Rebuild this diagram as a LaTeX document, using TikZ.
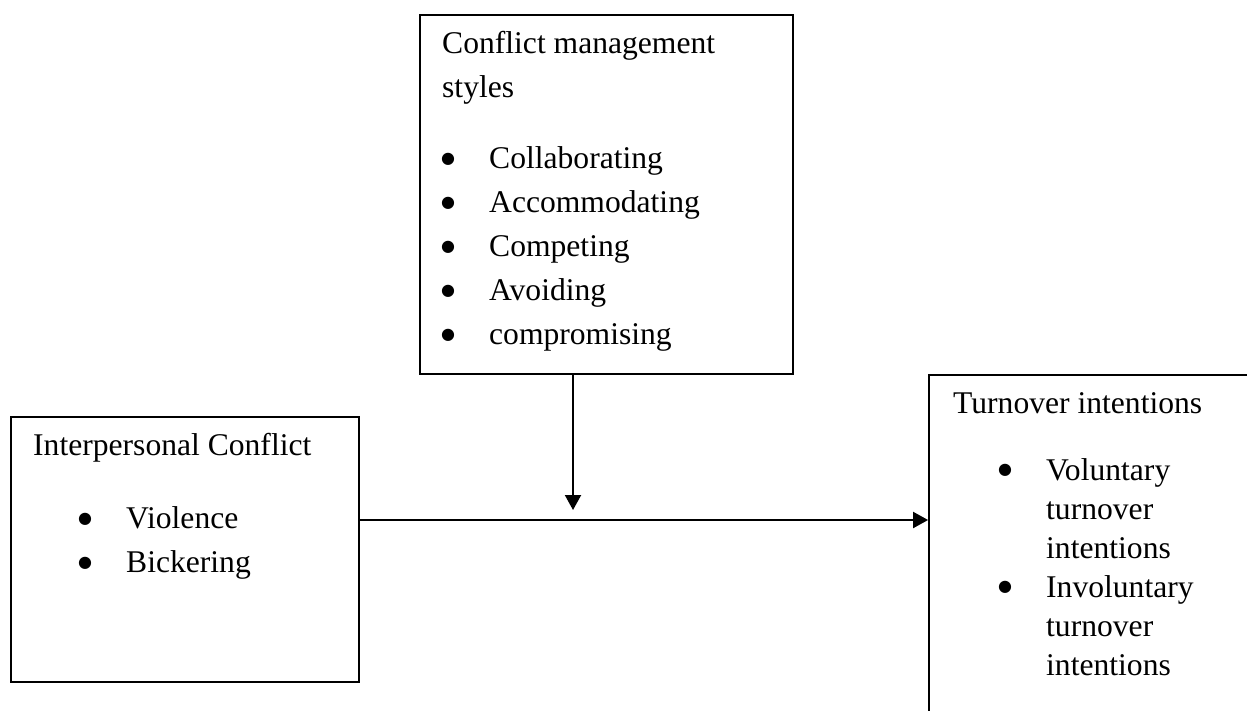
\documentclass[tikz,border=0pt]{standalone}
\usepackage{fontspec}
\setmainfont{Liberation Serif}
\newfontfamily\symfont{DejaVu Sans}
\usetikzlibrary{arrows.meta,fit}
\definecolor{ink}{HTML}{000000}
\newcommand{\bodyfont}{\fontsize{31.6}{44}\selectfont}
\newcommand{\bigbullet}{\makebox[0pt]{\raisebox{5.5pt}{\symfont\fontsize{16}{16}\selectfont ●}}}
\newcommand{\itm}[2]{\hspace*{#1}\makebox[41pt][l]{\bigbullet}#2}
\tikzset{
 every node/.append style={font=\bodyfont,text=ink,align=left},
 box/.style={draw=ink,line width=1.8pt,inner sep=0pt},
 txt/.style={anchor=north west,inner sep=0pt},
 flow/.style={-{Triangle[length=15pt,width=16pt]},draw=ink,line width=2pt},
}
\begin{document}
\begin{tikzpicture}[x=1pt,y=-1pt]

\useasboundingbox (0,0) rectangle (1247,710);
\clip (0,0) rectangle (1247,710);
\fill[white] (0,0) rectangle (1247,710);
\node[box,fit={(420,15) (793,374)}] (styles) {};
\node[box,fit={(11,417) (359,682)}] (conflict) {};
\node[box,fit={(929,375) (1270,730)}] (turnover) {};
\node[txt] (stylestxt) at (442,31.5) {Conflict management\\styles\\[27pt]
 \itm{6pt}{Collaborating}\\\itm{6pt}{Accommodating}\\\itm{6pt}{Competing}\\
 \itm{6pt}{Avoiding}\\\itm{6pt}{compromising}};
\node[txt] (conflicttxt) at (33,433.5) {Interpersonal Conflict\\[29pt]
 \itm{52pt}{Violence}\\\itm{52pt}{Bickering}};
\node[txt,font=\fontsize{31.6}{39}\selectfont] (turnovertxt) at (953,392) {Turnover intentions\\[28pt]
 \itm{52pt}{Voluntary}\\\hspace*{93pt}turnover\\\hspace*{93pt}intentions\\
 \itm{52pt}{Involuntary}\\\hspace*{93pt}turnover\\\hspace*{93pt}intentions};
\coordinate (mid) at (573,520);
\draw[flow] (conflict.east |- mid) -- (turnover.west |- mid);
\draw[flow] (styles.south -| mid) -- ([yshift=10pt]mid);

\end{tikzpicture}
\end{document}
